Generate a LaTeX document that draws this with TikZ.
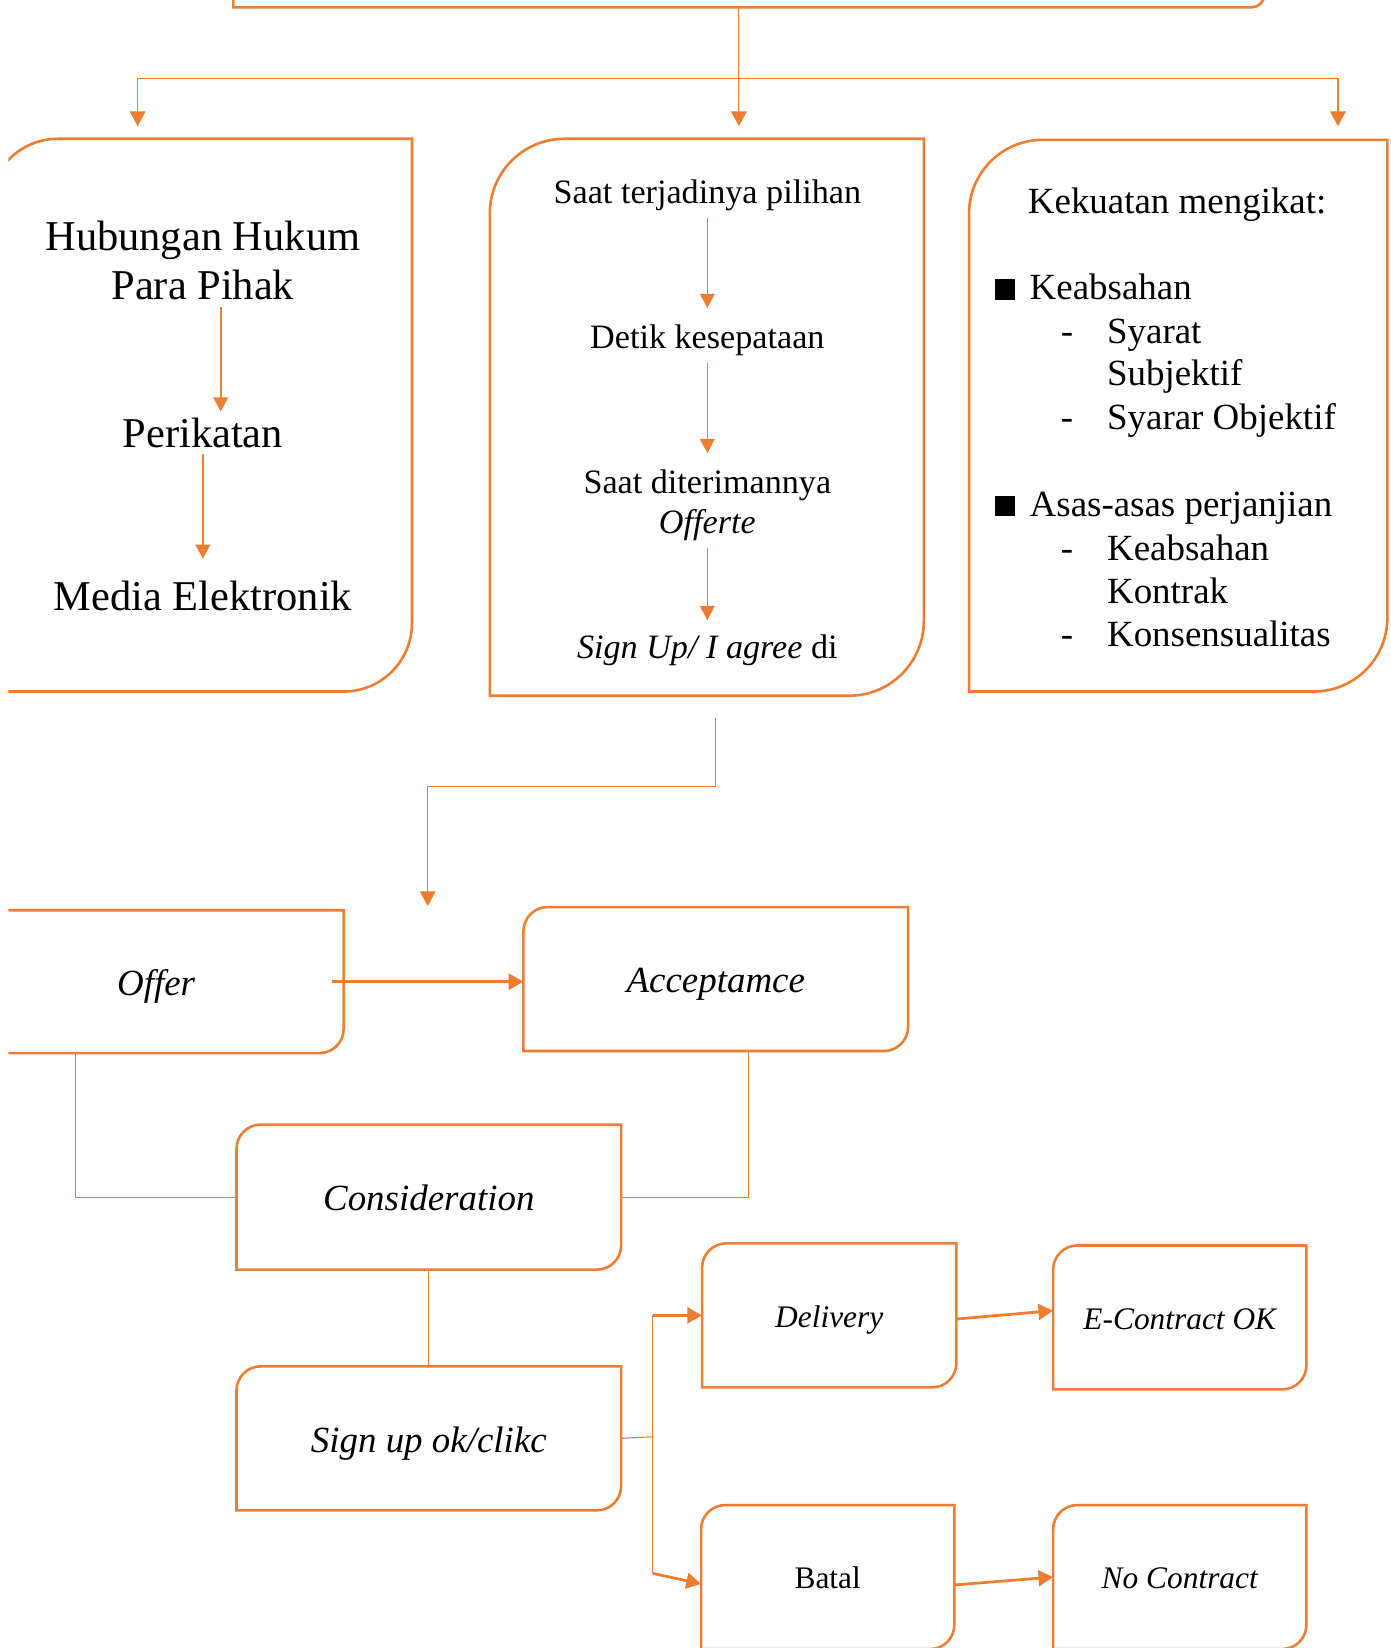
\documentclass[tikz,border=0pt]{standalone}
\usepackage{fontspec}
\setmainfont{Liberation Serif}
\usetikzlibrary{arrows.meta}
\definecolor{orng}{RGB}{237,125,49}
% frame with round top-left and bottom-right corners
\newcommand{\diagframe}[2]{\draw[frame] (#1.south west) -- ([yshift=-#2]#1.north west) arc[start angle=180, end angle=90, radius=#2] -- (#1.north east) -- ([yshift=#2]#1.south east) arc[start angle=0, end angle=-90, radius=#2] -- cycle;}

\tikzset{
	frame/.style={draw=orng, line width=1.4pt},
	boxnode/.style={inner sep=0pt, outer sep=0pt, align=center},
	conn/.style={draw=orng, line width=0.6pt},
	tiparr/.style={conn, -{Triangle[length=0.28cm, width=0.3cm]}},
	twotip/.style={conn, {Triangle[length=0.28cm, width=0.3cm]}-{Triangle[length=0.28cm, width=0.3cm]}},
	inarr/.style={draw=orng, line width=1.1pt, -{Triangle[length=0.27cm, width=0.28cm]}},
	fatarr/.style={draw=orng, line width=1.5pt, -{Triangle[length=0.28cm, width=0.3cm]}},
	bigtxt/.style={font=\fontsize{23}{26.7}\selectfont, align=center},
	midtxt/.style={font=\fontsize{18.5}{21.6}\selectfont, align=center},
	listtxt/.style={font=\fontsize{20}{24}\selectfont, anchor=base west, inner sep=0pt},
	lowtxt/.style={font=\fontsize{20}{24}\selectfont\itshape, text height=17pt, text depth=2.2pt},
	smalltxt/.style={font=\fontsize{17}{20}\selectfont, text height=13.8pt, text depth=1.2pt},
}

\begin{document}
\begin{tikzpicture}[x=0.02cm, y=0.02cm]
		\useasboundingbox (0,0) rectangle (1323,-1568);
		\clip (8,0) rectangle (1323,-1568);
		
		%%%%% BOXES %%%%%
		\node[boxnode, minimum width=19.62cm, minimum height=2.54cm] (top) at (712.5,56.5) {};
		\node[boxnode, minimum width=8.04cm, minimum height=10.52cm] (hukum) at (191,-395) {};
		\node[boxnode, minimum width=8.26cm, minimum height=10.6cm] (saat) at (672.5,-397) {};
		\node[boxnode, minimum width=7.96cm, minimum height=10.5cm] (kekuatan) at (1121,-395.5) {};
		
		\node[boxnode, lowtxt, minimum width=7.14cm, minimum height=2.72cm] (offer) at (148.5,-934) {Offer};
		\node[boxnode, lowtxt, minimum width=7.32cm, minimum height=2.74cm] (accept) at (681,-931.5) {Acceptamce};
		\node[boxnode, lowtxt, minimum width=7.32cm, minimum height=2.76cm] (consid) at (408,-1139) {Consideration};
		\node[boxnode, lowtxt, minimum width=7.32cm, minimum height=2.74cm] (signup) at (408,-1368.5) {Sign up ok/clikc};
		\node[boxnode, smalltxt, minimum width=4.84cm, minimum height=2.74cm] (deliv) at (789,-1251.5) {\itshape Delivery};
		\node[boxnode, smalltxt, minimum width=4.82cm, minimum height=2.74cm] (econ) at (1122.5,-1253.5) {\itshape E-Contract OK};
		\node[boxnode, smalltxt, minimum width=4.82cm, minimum height=2.74cm] (batal) at (787.5,-1500.5) {Batal};
		\node[boxnode, smalltxt, minimum width=4.82cm, minimum height=2.74cm] (nocon) at (1122.5,-1500.5) {\itshape No Contract};
		
		\diagframe{top}{0.24cm}
		\diagframe{hukum}{1.3cm}
		\diagframe{saat}{1.42cm}
		\diagframe{kekuatan}{1.4cm}
		\diagframe{offer}{0.46cm}
		\diagframe{accept}{0.46cm}
		\diagframe{consid}{0.46cm}
		\diagframe{signup}{0.46cm}
		\diagframe{deliv}{0.46cm}
		\diagframe{econ}{0.46cm}
		\diagframe{batal}{0.46cm}
		\diagframe{nocon}{0.46cm}
		
		%%%%% LEFT BOX %%%%%
		\node[bigtxt] (hub) at (193,-248) {Hubungan Hukum\\Para Pihak};
		\node[bigtxt] (perik) at (193,-412) {Perikatan};
		\node[bigtxt] (media) at (193,-567) {Media Elektronik};
		\draw[inarr] ([xshift=0.34cm]hub.south) -- ([xshift=0.34cm]perik.north);
		\draw[inarr, shorten >=0.3cm] (perik.south) -- (media.north);
		
		%%%%% MIDDLE BOX %%%%%
		\node[midtxt] (pilihan) at (673,-186) {Saat terjadinya pilihan};
		\node[midtxt] (detik) at (673,-324) {Detik kesepataan};
		\node[midtxt] (terima) at (673,-481) {Saat diterimannya\\\textit{Offerte}};
		\node[midtxt] (agree) at (673,-619) {\textit{Sign Up/ I agree} di};
		\draw[inarr, line width=0.9pt, shorten >=0.2cm] (pilihan.south) -- (detik.north);
		\draw[inarr, line width=0.9pt, shorten >=0.2cm] (detik.south) -- (terima.north);
		\draw[inarr, line width=0.7pt, shorten >=0.16cm] (terima.south) -- (agree.north);
		
		%%%%% RIGHT BOX %%%%%
		\node[font=\fontsize{20}{24}\selectfont] (kek) at (1120,-195) {Kekuatan mengikat:};
		\node[listtxt] (keab) at (946,-285) {\rule{11pt}{11pt}\hspace{8pt}Keabsahan};
		\node[listtxt] (asas) at (946,-491) {\rule{11pt}{11pt}\hspace{8pt}Asas-asas perjanjian};
		\foreach \nm/\y in {d1/327, d2/409, d3/533, d4/615}
			\node[listtxt] (\nm) at (1009,-\y) {-};
		\node[listtxt] (syarat) at (1053,-327) {Syarat};
		\node[listtxt] (subj) at (1053,-367) {Subjektif};
		\node[listtxt] (obj) at (1053,-409) {Syarar Objektif};
		\node[listtxt] (keab2) at (1053,-533) {Keabsahan};
		\node[listtxt] (kontrak) at (1053,-574) {Kontrak};
		\node[listtxt] (konsen) at (1053,-615) {Konsensualitas};
		
		%%%%% CONNECTORS %%%%%
		\coordinate (tipL) at (131,-120);
		\coordinate (tipM) at (703,-120);
		\coordinate (tipR) at (1273,-120);
		\coordinate (bar) at (703,-75);
		\draw[tiparr] (tipM |- top.south) -- (tipM);
		\draw[twotip] (tipL) -- (tipL |- bar) -- (tipR |- bar) -- (tipR);
		
		\coordinate (drop) at (681,-683);
		\coordinate (elbow) at (681,-748);
		\coordinate (tipO) at (407,-862);
		\draw[tiparr] (drop) -- (elbow) -| (tipO);
		
		\draw[fatarr] ([xshift=-0.22cm]offer.east) -- (accept.west |- offer.east);
		
		\coordinate (oleg) at (72,-1002);
		\coordinate (aleg) at (712,-1000);
		\draw[conn] (oleg) |- (consid.west);
		\draw[conn] (aleg) |- (consid.east);
		\draw[conn] (consid.south) -- (signup.north);
		
		\coordinate (fork) at (621,-1367);
		\coordinate (forkB) at (621,-1497);
		\draw[conn] (signup.east) -- (fork);
		\draw[conn] (fork |- deliv.west) -- (forkB);
		\draw[fatarr] (fork |- deliv.west) -- (deliv.west);
		\draw[fatarr] (forkB) -- ([yshift=-0.13cm]batal.west);
		\draw[fatarr] ([yshift=-0.07cm]deliv.east) -- ([yshift=0.13cm]econ.west);
		\draw[fatarr] ([yshift=-0.15cm]batal.east) -- (nocon.west);
		
	\end{tikzpicture}
\end{document}
